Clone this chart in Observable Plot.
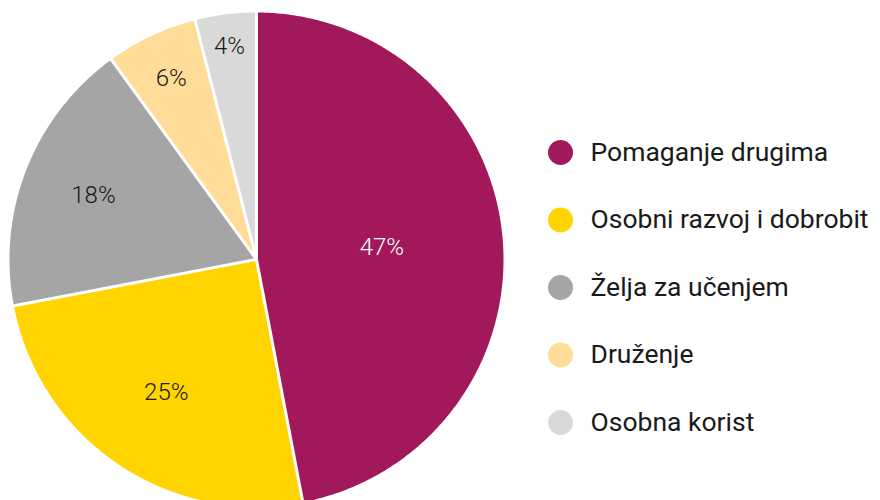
<!DOCTYPE html>
<html>
<head>
<meta charset="utf-8">
<script src="https://cdn.jsdelivr.net/npm/d3@7"></script>
<script src="https://cdn.jsdelivr.net/npm/@observablehq/plot@0.6"></script>
<style>
  html, body { margin: 0; padding: 0; background: #fff; }
  #chart svg { display: block; }
</style>
</head>
<body>
<div id="chart"></div>
<script>
// ---- data ----
const categories = ["Pomaganje drugima", "Osobni razvoj i dobrobit", "Želja za učenjem", "Druženje", "Osobna korist"];
const values = [47, 25, 18, 6, 4];
const labels = ["47%", "25%", "18%", "6%", "4%"];
const colors = ["#A1195B", "#FFD400", "#A5A5A5", "#FFDC97", "#D9D9D9"];
const labelColors = ["#ffffff", "#1a1a1a", "#1a1a1a", "#1a1a1a", "#1a1a1a"];

// ---- layout ----
const W = 880, H = 500;
const CX = 256, CY = 259, R = 247;
const labelRadius = [0.51, 0.65, 0.71, 0.81, 0.87];
const legendX = 560, legendTextX = 590, legendY0 = 152, legendStep = 67.5;

const total = d3.sum(values);
const slices = [];
const borders = [];
const labelData = [];
let acc = 0;
values.forEach((v, i) => {
  const a0 = acc / total * 2 * Math.PI;
  acc += v;
  const a1 = acc / total * 2 * Math.PI;
  const pts = [{x: 0, y: 0}];
  const n = Math.max(2, Math.ceil((a1 - a0) / (Math.PI / 360)));
  for (let k = 0; k <= n; k++) {
    const a = a0 + (a1 - a0) * k / n;
    pts.push({x: Math.sin(a), y: Math.cos(a)});
  }
  pts.push({x: 0, y: 0});
  slices.push({pts, color: colors[i]});
  borders.push({x1: 0, y1: 0, x2: Math.sin(a0) * 1.01, y2: Math.cos(a0) * 1.01});
  const am = (a0 + a1) / 2;
  labelData.push({x: Math.sin(am) * labelRadius[i], y: Math.cos(am) * labelRadius[i], text: labels[i], color: labelColors[i]});
});

// pixel -> data units for legend placement
const px2x = px => (px - CX) / R;
const py2y = py => (CY - py) / R;
const legend = categories.map((c, i) => ({
  x: px2x(legendX), tx: px2x(legendTextX), y: py2y(legendY0 + i * legendStep), name: c, color: colors[i]
}));

const marks = [];
slices.forEach(s => {
  marks.push(Plot.line(s.pts, {x: "x", y: "y", fill: s.color, stroke: "none", curve: "linear"}));
});
marks.push(Plot.link(borders, {x1: "x1", y1: "y1", x2: "x2", y2: "y2", stroke: "#ffffff", strokeWidth: 3}));
marks.push(Plot.text(labelData, {x: "x", y: "y", text: "text", fill: d => d.color, fontSize: 24, fontWeight: 300, fontFamily: "Roboto"}));
marks.push(Plot.dot(legend, {x: "x", y: "y", r: 12.5, fill: d => d.color, stroke: "none"}));
marks.push(Plot.text(legend, {x: "tx", y: "y", text: "name", textAnchor: "start", fill: "#1a1a1a", fontSize: 26.5, fontFamily: "Roboto", fontWeight: 400}));

const chart = Plot.plot({
  width: W,
  height: H,
  margin: 0,
  x: {type: "linear", domain: [-1, 1], range: [CX - R, CX + R], axis: null},
  y: {type: "linear", domain: [-1, 1], range: [CY + R, CY - R], axis: null},
  style: {background: "#fff", overflow: "hidden"},
  marks
});
document.getElementById("chart").appendChild(chart);
</script>
</body>
</html>
